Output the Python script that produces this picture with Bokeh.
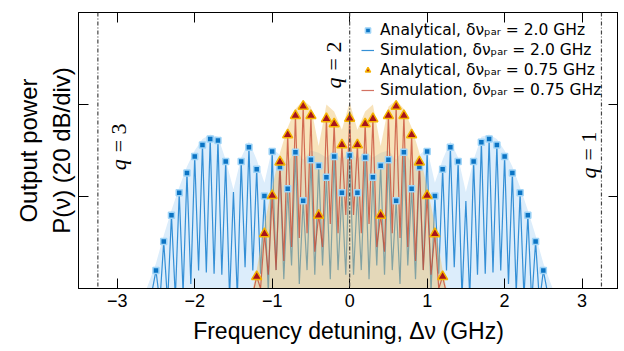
import math
from bokeh.plotting import figure
from bokeh.models import (FixedTicker, LinearAxis, Span, Label, Legend, LegendItem)
from bokeh.embed import file_html
from bokeh.resources import INLINE

nan = float("nan")

# ---------------- data ----------------
x_ticks = [-3, -2, -1, 0, 1, 2, 3]
y_ticks = [20, 40]                       # 20 dB / div
q_positions = [-3.25, 0.0, 3.25]          # q = 3, 2, 1
q_names = ["3", "2", "1"]

# analytical, delta nu_par = 2.0 GHz (modes every 0.1 GHz)
freq_a2 = [-2.5, -2.4, -2.3, -2.2, -2.1, -2.0, -1.9, -1.8, -1.7, -1.6, -1.5,
           -1.4, -1.3, -1.2, -1.1, -1.0, -0.9, -0.8, -0.7, -0.6, -0.5, -0.4,
           -0.3, -0.2, -0.1, 0.0, 0.1, 0.2, 0.3, 0.4, 0.5, 0.6, 0.7, 0.8, 0.9,
           1.0, 1.1, 1.2, 1.3, 1.4, 1.5, 1.6, 1.7, 1.8, 1.9, 2.0, 2.1, 2.2,
           2.3, 2.4, 2.5]
power_a2 = [3.9, 10.2, 15.9, 20.8, 25.1, 28.7, 31.2, 32.5, 32.2, 27.6, nan,
            27.6, 30.7, 25.9, 20.1, 29.8, 26.4, 21.7, 29.6, 19.1, 28.0, 26.7,
            24.2, 28.7, 20.8, 28.9, 20.8, 28.5, 24.2, 26.7, 28.0, 19.1, 29.6,
            21.7, 26.4, 29.8, 20.1, 25.9, 30.7, 27.6, nan, 27.6, 31.8, 32.5,
            31.2, 28.7, 25.1, 20.8, 15.9, 10.2, 3.9]

# analytical, delta nu_par = 0.75 GHz
freq_a075 = [-1.2, -1.1, -1.0, -0.9, -0.8, -0.7, -0.6, -0.5, -0.4, -0.3, -0.2,
             -0.1, 0.0, 0.1, 0.2, 0.3, 0.4, 0.5, 0.6, 0.7, 0.8, 0.9, 1.0, 1.1,
             1.2]
power_a075 = [2.6, 11.9, 20.2, 27.5, 33.4, 37.6, 39.6, 37.6, 15.9, 36.9, 35.8,
              31.2, 37.0, 31.2, 35.8, 36.9, 15.9, 37.6, 39.6, 37.6, 33.4, 27.5,
              20.2, 11.9, 2.6]

# simulation, 2.0 GHz: mode peaks and the troughs between them
peak_s2 = [3.9, 10.2, 15.9, 20.8, 25.1, 28.7, 31.2, 32.5, 32.2, 27.6, 21.0,
           27.6, 30.7, 25.9, 20.1, 29.8, 26.4, 21.7, 29.6, 19.1, 28.0, 26.7,
           24.2, 28.7, 20.8, 28.9, 20.8, 28.5, 24.2, 26.7, 28.0, 19.1, 29.6,
           21.7, 26.4, 29.8, 20.1, 25.9, 30.7, 27.6, 19.0, 27.6, 31.8, 32.5,
           31.2, 28.7, 25.1, 20.8, 15.9, 10.2, 3.9]
trough_x_s2 = [-2.45, -2.35, -2.25, -2.15, -2.05, -1.95, -1.85, -1.75, -1.65,
               -1.55, -1.45, -1.35, -1.25, -1.15, -1.05, -0.95, -0.85, -0.75,
               -0.65, -0.55, -0.45, -0.35, -0.25, -0.15, -0.05, 0.05, 0.15,
               0.25, 0.35, 0.45, 0.55, 0.65, 0.75, 0.85, 0.95, 1.05, 1.15,
               1.25, 1.35, 1.45, 1.55, 1.65, 1.75, 1.85, 1.95, 2.05, 2.15,
               2.25, 2.35, 2.45]
trough_s2 = [-3, -3, -2, -1, 1.0, 3.9, 3.5, 3.2, 3.0, -2, -2, 4.6, 3.9, 3.2,
             -1, 4.0, 2.0, 5.0, 1.0, 4.0, 3.0, 5.0, 2.0, 4.0, 3.0, 3.0, 4.0,
             2.0, 5.0, 3.0, 4.0, 1.0, 5.0, 2.0, 4.0, -1, 3.2, 3.9, 4.6, -2,
             -2, 3.0, 3.2, 3.5, 3.9, 1.0, -1, -2, -3, -3]
edge_s2 = [-2.6, 2.6]

# simulation, 0.75 GHz
peak_s075 = [2.6, 11.9, 20.2, 27.5, 33.4, 37.6, 39.6, 37.6, 15.9, 36.9, 35.8,
             31.2, 37.0, 31.2, 35.8, 36.9, 15.9, 37.6, 39.6, 37.6, 33.4, 27.5,
             20.2, 11.9, 2.6]
trough_x_s075 = [-1.15, -1.05, -0.95, -0.85, -0.75, -0.65, -0.55, -0.45, -0.35,
                 -0.25, -0.15, -0.05, 0.05, 0.15, 0.25, 0.35, 0.45, 0.55, 0.65,
                 0.75, 0.85, 0.95, 1.05, 1.15]
trough_s075 = [0.0, 3.0, 4.0, 6.0, 9.0, 11.0, 12.0, 8.0, 9.0, 14.0, 12.0, 16.0,
               16.0, 12.0, 14.0, 9.0, 8.0, 12.0, 11.0, 9.0, 6.0, 4.0, 3.0, 0.0]
edge_s075 = [-1.3, 1.3]

# smooth envelopes (shaded areas)
env2_x = [-2.62, -2.5, -2.4, -2.3, -2.2, -2.1, -2.0, -1.9, -1.8, -1.7, -1.6,
          -1.5, -1.4, -1.3, -1.2, -1.1, -1.0, -0.9, -0.8, -0.7, -0.6, -0.5,
          -0.4, -0.3, -0.2, -0.1, 0.0, 0.1, 0.2, 0.3, 0.4, 0.5, 0.6, 0.7, 0.8,
          0.9, 1.0, 1.1, 1.2, 1.3, 1.4, 1.5, 1.6, 1.7, 1.8, 1.9, 2.0, 2.1,
          2.2, 2.3, 2.4, 2.5, 2.62]
env2_y = [0, 5.5, 11.5, 17.0, 22.0, 26.5, 30.0, 32.5, 33.5, 33.0, 28.0, 21.5,
          28.5, 32.0, 28.0, 23.0, 30.5, 29.0, 27.0, 30.5, 28.0, 30.0, 29.5,
          28.5, 30.0, 28.0, 30.0, 28.0, 30.0, 28.5, 29.5, 30.0, 28.0, 30.5,
          27.0, 29.0, 30.5, 23.0, 28.0, 32.0, 28.5, 21.0, 28.0, 33.0, 33.5,
          32.5, 30.0, 26.5, 22.0, 17.0, 11.5, 5.5, 0]
env075_x = [-1.25, -1.2, -1.1, -1.0, -0.9, -0.8, -0.7, -0.6, -0.5, -0.4, -0.3,
            -0.2, -0.1, 0.0, 0.1, 0.2, 0.3, 0.4, 0.5, 0.6, 0.7, 0.8, 0.9, 1.0,
            1.1, 1.2, 1.25]
env075_y = [0, 4.0, 14.0, 22.0, 29.5, 35.0, 39.0, 41.0, 39.5, 31.0, 40.0,
            38.5, 34.5, 40.5, 34.5, 38.5, 40.0, 31.0, 39.5, 41.0, 39.0, 35.0,
            29.5, 22.0, 14.0, 4.0, 0]


def spikes(edges, peaks_x, peaks, troughs_x, troughs):
    xs, ys = [edges[0]], [-5]
    for i, (px, pv) in enumerate(zip(peaks_x, peaks)):
        xs.append(px); ys.append(pv)
        if i < len(troughs):
            xs.append(troughs_x[i]); ys.append(troughs[i])
    xs.append(edges[1]); ys.append(-5)
    return xs, ys


s2_x, s2_y = spikes(edge_s2, freq_a2, peak_s2, trough_x_s2, trough_s2)
s075_x, s075_y = spikes(edge_s075, freq_a075, peak_s075, trough_x_s075, trough_s075)

# ---------------- figure ----------------
SANS = "Liberation Sans"
SERIF = "Liberation Serif"

p = figure(frame_width=540, frame_height=276, x_range=(-3.5, 3.47),
           y_range=(0, 60), output_backend="svg", toolbar_location=None,
           min_border_left=78, min_border_right=0, min_border_top=12,
           min_border_bottom=58)
p.grid.visible = False
p.outline_line_color = "black"
p.outline_line_width = 1
p.background_fill_color = "white"
p.border_fill_color = "white"

r_env2 = p.varea(x=env2_x, y1=0, y2=env2_y, fill_color="#dcedfb", fill_alpha=1.0)
r_s2 = p.line(s2_x, s2_y, line_color="#2a8ad4", line_width=1.2, line_alpha=0.95)
r_env075 = p.varea(x=env075_x, y1=0, y2=env075_y, fill_color="#eebd5e", fill_alpha=0.42)
r_s075 = p.line(s075_x, s075_y, line_color="#c4432f", line_width=1.2, line_alpha=0.75)

for qx in q_positions:
    p.add_layout(Span(location=qx, dimension="height", line_color="#444444",
                      line_width=1.2, line_dash="4 2 1 2"))

r_a2 = p.scatter(freq_a2, power_a2, marker="square", size=6,
                 fill_color="#0b74c4", line_color="#9fd4f7", line_width=1.5)
r_a075 = p.scatter(freq_a075, power_a075, marker="triangle", size=10,
                   fill_color="#a8141c", line_color="#f5b300", line_width=1.5)

# q labels
q_label_pos = [(-2.98, 25.7), (-0.21, 43.5), (3.08, 23.9)]
for (lx, ly), name in zip(q_label_pos, q_names):
    p.add_layout(Label(x=lx, y=ly, text="q", angle=math.pi / 2,
                       text_font=SERIF, text_font_style="italic",
                       text_font_size="22px", text_baseline="middle",
                       text_align="left", text_color="black"))
    p.add_layout(Label(x=lx, y=ly + 3.9, text="= " + name, angle=math.pi / 2,
                       text_font=SERIF, text_font_size="22px",
                       text_baseline="middle", text_align="left",
                       text_color="black"))

# axes
p.xaxis.ticker = FixedTicker(ticks=x_ticks)
p.xaxis.major_tick_in = 10
p.xaxis.major_tick_out = 0
p.xaxis.minor_tick_line_color = None
p.xaxis.major_label_text_font = SANS
p.xaxis.major_label_text_font_size = "18px"
p.xaxis.major_label_text_color = "black"
p.xaxis.major_label_standoff = 5
p.xaxis.axis_label = "Frequency detuning, Δν (GHz)"
p.xaxis.axis_label_text_font = SANS
p.xaxis.axis_label_text_font_size = "23px"
p.xaxis.axis_label_text_font_style = "normal"
p.xaxis.axis_label_text_color = "black"
p.xaxis.axis_label_standoff = 8
p.xaxis.axis_line_color = "black"
p.xaxis.major_tick_line_color = "black"

p.yaxis.ticker = FixedTicker(ticks=y_ticks)
p.yaxis.major_tick_in = 10
p.yaxis.major_tick_out = 0
p.yaxis.minor_tick_line_color = None
p.yaxis.major_label_text_font_size = "1px"
p.yaxis.major_label_text_color = None
p.yaxis.major_label_standoff = 0
p.yaxis.axis_label = "Output power\nP(ν) (20 dB/div)"
p.yaxis.axis_label_text_font = SANS
p.yaxis.axis_label_text_font_size = "24px"
p.yaxis.axis_label_text_font_style = "normal"
p.yaxis.axis_label_text_color = "black"
p.yaxis.axis_label_standoff = 4
p.yaxis.axis_line_color = "black"

top_axis = LinearAxis(ticker=FixedTicker(ticks=x_ticks), major_tick_in=10,
                      major_tick_out=0, minor_tick_line_color=None,
                      major_label_text_font_size="1px",
                      major_label_text_color=None, major_label_standoff=0,
                      axis_line_color="black")
p.add_layout(top_axis, "above")
right_axis = LinearAxis(ticker=FixedTicker(ticks=y_ticks), major_tick_in=10,
                        major_tick_out=0, minor_tick_line_color=None,
                        major_label_text_font_size="1px",
                        major_label_text_color=None, major_label_standoff=0,
                        axis_line_color="black")
p.add_layout(right_axis, "right")

legend = Legend(items=[
    LegendItem(label="Analytical, δνₚₐᵣ = 2.0 GHz", renderers=[r_a2]),
    LegendItem(label="Simulation, δνₚₐᵣ = 2.0 GHz", renderers=[r_s2]),
    LegendItem(label="Analytical, δνₚₐᵣ = 0.75 GHz", renderers=[r_a075]),
    LegendItem(label="Simulation, δνₚₐᵣ = 0.75 GHz", renderers=[r_s075]),
], location=(283, 189), border_line_color=None, background_fill_alpha=0,
    padding=0, margin=0, spacing=2, glyph_width=13, glyph_height=16,
    label_height=16, label_standoff=6, label_text_font="DejaVu Sans",
    label_text_font_size="15.5px", label_text_color="black")
p.add_layout(legend)

open("out.html", "w").write(file_html(p, INLINE))
